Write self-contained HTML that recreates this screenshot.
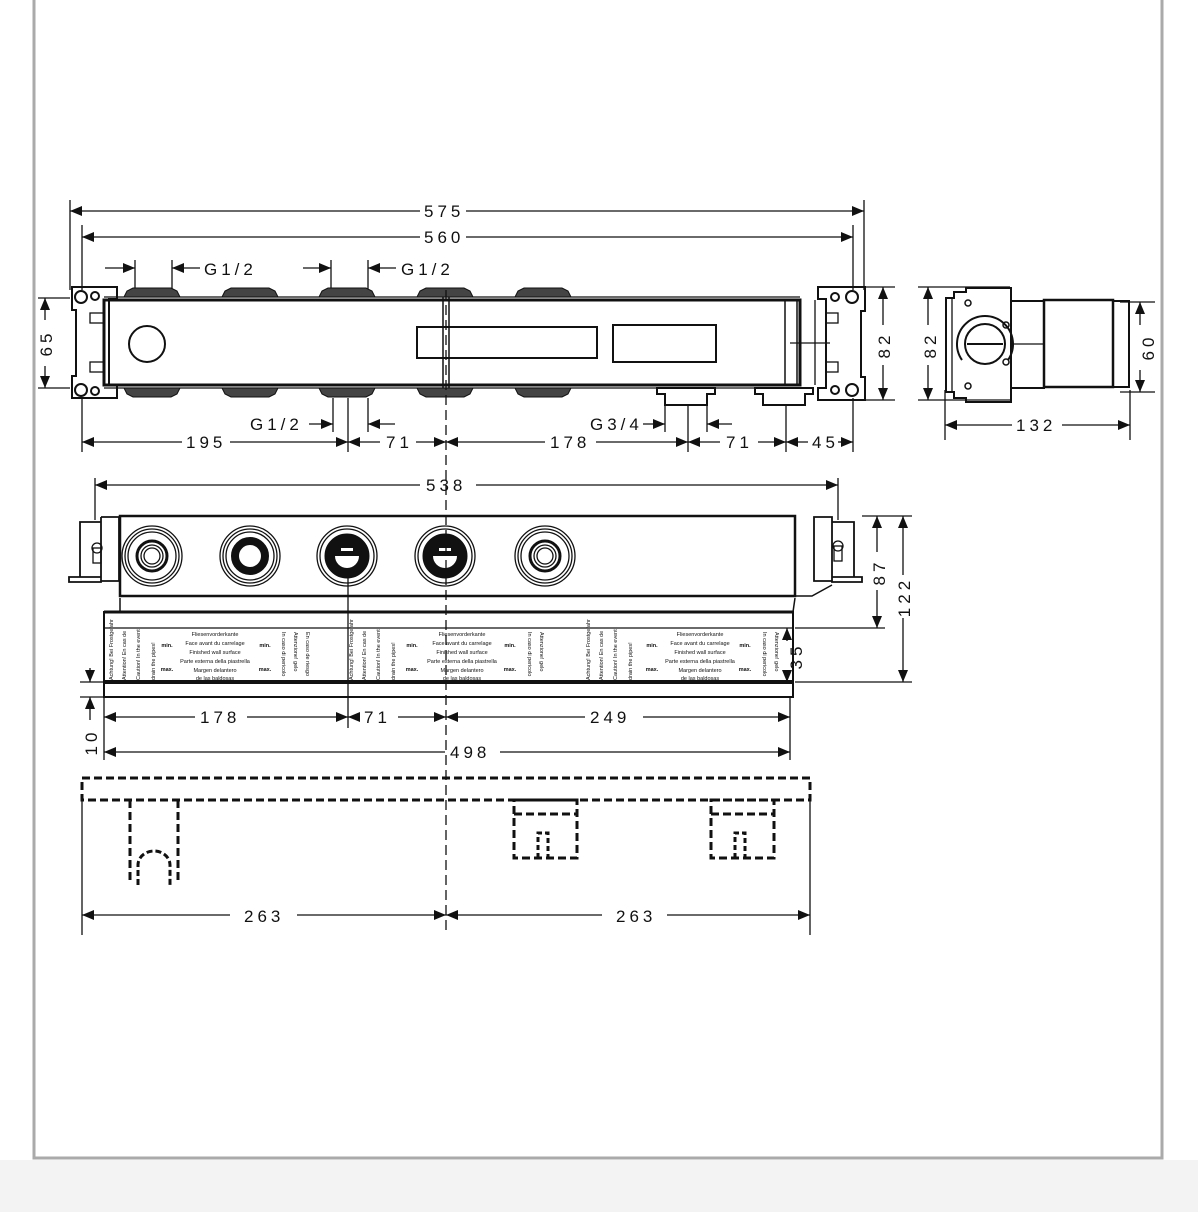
<!DOCTYPE html>
<html><head><meta charset="utf-8"><style>
html,body{margin:0;padding:0;background:#f3f3f3;}
svg{display:block;}
text{font-family:"Liberation Sans",sans-serif;fill:#111;}
.d{font-size:17px;letter-spacing:4px;}
.s{font-size:5.5px;}
</style></head><body>
<svg width="1198" height="1212" viewBox="0 0 1198 1212" xmlns="http://www.w3.org/2000/svg">
<defs>
<marker id="a" viewBox="0 0 12 10" refX="12" refY="5" markerWidth="12" markerHeight="10" markerUnits="userSpaceOnUse" orient="auto-start-reverse"><path d="M0,0 L12,5 L0,10 Z" fill="#111"/></marker>
</defs>
<rect x="0" y="0" width="1198" height="1160" fill="#fff"/>
<path d="M34,0 V1158 H1162 V0" fill="none" stroke="#aaa" stroke-width="3"/>

<g stroke="#111" fill="none" stroke-width="1.3">
<line x1="70" y1="200" x2="70" y2="290"/>
<line x1="82" y1="225" x2="82" y2="290"/>
<line x1="864" y1="200" x2="864" y2="290"/>
<line x1="853" y1="225" x2="853" y2="290"/>
<line x1="82" y1="398" x2="82" y2="452"/>
<line x1="853" y1="398" x2="853" y2="452"/>
<line x1="135" y1="260" x2="135" y2="290"/><line x1="172" y1="260" x2="172" y2="290"/>
<line x1="331" y1="260" x2="331" y2="290"/><line x1="368" y1="260" x2="368" y2="290"/>
<line x1="333" y1="398" x2="333" y2="432"/><line x1="368" y1="398" x2="368" y2="432"/><line x1="348" y1="398" x2="348" y2="452"/>
<line x1="665" y1="400" x2="665" y2="432"/><line x1="707" y1="400" x2="707" y2="432"/><line x1="688" y1="400" x2="688" y2="452"/>
<line x1="786" y1="400" x2="786" y2="452"/>
<line x1="38" y1="298" x2="70" y2="298"/><line x1="38" y1="388" x2="70" y2="388"/>
<line x1="865" y1="287" x2="895" y2="287"/><line x1="865" y1="400" x2="895" y2="400"/>

<line x1="70" y1="211" x2="420" y2="211" marker-start="url(#a)"/><line x1="466" y1="211" x2="864" y2="211" marker-end="url(#a)"/>
<line x1="82" y1="237" x2="420" y2="237" marker-start="url(#a)"/><line x1="466" y1="237" x2="853" y2="237" marker-end="url(#a)"/>
<line x1="105" y1="268" x2="135" y2="268" marker-end="url(#a)"/><line x1="172" y1="268" x2="200" y2="268" marker-start="url(#a)"/>
<line x1="303" y1="268" x2="331" y2="268" marker-end="url(#a)"/><line x1="368" y1="268" x2="396" y2="268" marker-start="url(#a)"/>
<line x1="309" y1="424" x2="333" y2="424" marker-end="url(#a)"/><line x1="368" y1="424" x2="395" y2="424" marker-start="url(#a)"/>
<line x1="643" y1="424" x2="665" y2="424" marker-end="url(#a)"/><line x1="707" y1="424" x2="732" y2="424" marker-start="url(#a)"/>
<line x1="82" y1="442" x2="182" y2="442" marker-start="url(#a)"/><line x1="230" y1="442" x2="348" y2="442" marker-end="url(#a)"/>
<line x1="348" y1="442" x2="380" y2="442" marker-start="url(#a)"/><line x1="416" y1="442" x2="446" y2="442" marker-end="url(#a)"/>
<line x1="446" y1="442" x2="545" y2="442" marker-start="url(#a)"/><line x1="596" y1="442" x2="688" y2="442" marker-end="url(#a)"/>
<line x1="688" y1="442" x2="720" y2="442" marker-start="url(#a)"/><line x1="758" y1="442" x2="786" y2="442" marker-end="url(#a)"/>
<line x1="786" y1="442" x2="808" y2="442" marker-start="url(#a)"/><line x1="838" y1="442" x2="853" y2="442" marker-end="url(#a)"/>
<line x1="45" y1="298" x2="45" y2="320" marker-start="url(#a)"/><line x1="45" y1="366" x2="45" y2="388" marker-end="url(#a)"/>
<line x1="883" y1="287" x2="883" y2="325" marker-start="url(#a)"/><line x1="883" y1="365" x2="883" y2="400" marker-end="url(#a)"/>

<rect x="104" y="300" width="696" height="85" stroke-width="3"/>
<line x1="104" y1="297" x2="800" y2="297"/>
<line x1="104" y1="388" x2="800" y2="388"/>
<circle cx="147" cy="344" r="18" stroke-width="2"/>
<rect x="417" y="327" width="180" height="31" stroke-width="2"/>
<rect x="613" y="325" width="103" height="37" stroke-width="2"/>
<line x1="443" y1="297" x2="443" y2="388" stroke-width="1.5"/><line x1="449" y1="297" x2="449" y2="388" stroke-width="1.5"/>
<path d="M785,300 h12 v85 h-12 z" stroke-width="1.5"/>
<line x1="815" y1="300" x2="815" y2="385"/><line x1="790" y1="343" x2="830" y2="343"/>
<path d="M72,287 h45 v12 h-8 v86 h8 v13 h-45 v-22 h4 v-66 h-4 z" stroke-width="2"/>
<circle cx="81" cy="297" r="6" stroke-width="2"/><circle cx="95" cy="296" r="4" stroke-width="2"/>
<circle cx="81" cy="390" r="6" stroke-width="2"/><circle cx="95" cy="391" r="4" stroke-width="2"/>
<rect x="90" y="313" width="14" height="10"/><rect x="90" y="362" width="14" height="10"/>
<path d="M818,287 h47 v24 h-4 v66 h4 v23 h-47 v-12 h8 v-89 h-8 z" stroke-width="2"/>
<circle cx="835" cy="297" r="4" stroke-width="2"/><circle cx="852" cy="297" r="6" stroke-width="2"/>
<circle cx="835" cy="390" r="4" stroke-width="2"/><circle cx="852" cy="390" r="6" stroke-width="2"/>
<rect x="826" y="313" width="12" height="10"/><rect x="826" y="362" width="12" height="10"/>
</g>
<g fill="#444" stroke="#111" stroke-width="1">
<path d="M124,297 l3,-6 l6,-3 h38 l6,3 l3,6 z"/><path d="M222,297 l3,-6 l6,-3 h38 l6,3 l3,6 z"/>
<path d="M319,297 l3,-6 l6,-3 h38 l6,3 l3,6 z"/><path d="M417,297 l3,-6 l6,-3 h38 l6,3 l3,6 z"/>
<path d="M515,297 l3,-6 l6,-3 h38 l6,3 l3,6 z"/>
<path d="M124,388 l3,6 l6,3 h38 l6,-3 l3,-6 z"/><path d="M222,388 l3,6 l6,3 h38 l6,-3 l3,-6 z"/>
<path d="M319,388 l3,6 l6,3 h38 l6,-3 l3,-6 z"/><path d="M417,388 l3,6 l6,3 h38 l6,-3 l3,-6 z"/>
<path d="M515,388 l3,6 l6,3 h38 l6,-3 l3,-6 z"/>
<path d="M657,388 v6 h8 v11 h42 v-11 h8 v-6 z" fill="#fff" stroke-width="2"/>
<path d="M755,388 v6 h8 v11 h42 v-11 h8 v-6 z" fill="#fff" stroke-width="2"/>
</g>
<text class="d" x="424" y="217">575</text>
<text class="d" x="424" y="243">560</text>
<text class="d" x="204" y="275">G1/2</text>
<text class="d" x="401" y="275">G1/2</text>
<text class="d" x="250" y="430">G1/2</text>
<text class="d" x="590" y="430">G3/4</text>
<text class="d" x="186" y="448">195</text>
<text class="d" x="386" y="448">71</text>
<text class="d" x="550" y="448">178</text>
<text class="d" x="726" y="448">71</text>
<text class="d" x="812" y="448">45</text>
<text class="d" transform="translate(52,343) rotate(-90)" text-anchor="middle">65</text>
<text class="d" transform="translate(890,345) rotate(-90)" text-anchor="middle">82</text>

<g stroke="#111" fill="none" stroke-width="1.3">
<line x1="918" y1="287" x2="1010" y2="287"/><line x1="918" y1="400" x2="1010" y2="400"/>
<line x1="928" y1="287" x2="928" y2="325" marker-start="url(#a)"/><line x1="928" y1="365" x2="928" y2="400" marker-end="url(#a)"/>
<line x1="1120" y1="302" x2="1155" y2="302"/><line x1="1120" y1="392" x2="1155" y2="392"/>
<line x1="1140" y1="302" x2="1140" y2="325" marker-start="url(#a)"/><line x1="1140" y1="370" x2="1140" y2="392" marker-end="url(#a)"/>
<line x1="945" y1="390" x2="945" y2="440"/><line x1="1130" y1="390" x2="1130" y2="440"/>
<line x1="945" y1="425" x2="1012" y2="425" marker-start="url(#a)"/><line x1="1062" y1="425" x2="1130" y2="425" marker-end="url(#a)"/>
<path d="M946,298 h8 v-6 h12 v-4 h45 v114 h-45 v-4 h-12 v-6 h-8 z" stroke-width="2"/>
<line x1="952" y1="298" x2="952" y2="392"/>
<path d="M962,360 a28,28 0 1,1 46,0" stroke-width="2"/>
<circle cx="985" cy="344" r="20" stroke-width="2"/>
<line x1="967" y1="344" x2="1003" y2="344" stroke-width="2"/>
<circle cx="968" cy="303" r="3" stroke-width="1.5"/><circle cx="968" cy="386" r="3" stroke-width="1.5"/>
<circle cx="1006" cy="325" r="3" stroke-width="1.5"/><circle cx="1006" cy="362" r="3" stroke-width="1.5"/>
<rect x="1011" y="301" width="33" height="87" stroke-width="2"/>
<line x1="1011" y1="344" x2="1044" y2="344"/>
<rect x="1044" y="300" width="69" height="87" stroke-width="2.5"/>
<rect x="1113" y="301" width="16" height="86" stroke-width="2"/>
</g>
<text class="d" transform="translate(936,345) rotate(-90)" text-anchor="middle">82</text>
<text class="d" transform="translate(1154,347) rotate(-90)" text-anchor="middle">60</text>
<text class="d" x="1016" y="431">132</text>

<g stroke="#111" fill="none" stroke-width="1.3">
<line x1="95" y1="478" x2="95" y2="520"/><line x1="838" y1="478" x2="838" y2="520"/>
<line x1="95" y1="485" x2="420" y2="485" marker-start="url(#a)"/><line x1="476" y1="485" x2="838" y2="485" marker-end="url(#a)"/>
<rect x="120" y="516" width="675" height="80" stroke-width="2.5"/>
<path d="M120,598 V612 M795,598 L793,612" stroke-width="1.5"/>
<path d="M795,596 L812,596 L832,585" stroke-width="1.5"/>
<path d="M101,517 h18 v64 h-18 v-64 M80,522 h21 v55 h-21 z M69,577 h32 v5 h-32 z" stroke-width="1.8"/>
<circle cx="97" cy="548" r="5"/><rect x="93" y="548" width="8" height="15"/>
<path d="M814,517 h18 v64 h-18 z M832,522 h22 v55 h-22 z M832,577 h30 v5 h-30 z" stroke-width="1.8"/>
<circle cx="838" cy="546" r="5"/><rect x="834" y="546" width="8" height="15"/>
<rect x="104" y="612" width="689" height="85" stroke-width="2"/>
<line x1="104" y1="612" x2="793" y2="612" stroke-width="3"/>
<line x1="104" y1="628" x2="793" y2="628"/>
<line x1="104" y1="682" x2="793" y2="682" stroke-width="4"/>
<line x1="104" y1="697" x2="793" y2="697" stroke-width="2"/>
<line x1="862" y1="516" x2="912" y2="516"/><line x1="795" y1="628" x2="885" y2="628"/><line x1="795" y1="682" x2="912" y2="682"/>
<line x1="877" y1="516" x2="877" y2="552" marker-start="url(#a)"/><line x1="877" y1="590" x2="877" y2="628" marker-end="url(#a)"/>
<line x1="903" y1="516" x2="903" y2="575" marker-start="url(#a)"/><line x1="903" y1="618" x2="903" y2="682" marker-end="url(#a)"/>
<line x1="787" y1="628" x2="787" y2="641" marker-start="url(#a)"/><line x1="787" y1="670" x2="787" y2="682" marker-end="url(#a)"/>
<line x1="80" y1="682" x2="104" y2="682"/><line x1="80" y1="697" x2="104" y2="697"/>
<line x1="90" y1="668" x2="90" y2="682" marker-end="url(#a)"/><line x1="90" y1="697" x2="90" y2="720" marker-start="url(#a)"/>
<line x1="104" y1="697" x2="104" y2="760"/><line x1="790" y1="697" x2="790" y2="760"/>
<line x1="348" y1="560" x2="348" y2="728"/>
<line x1="104" y1="717" x2="195" y2="717" marker-start="url(#a)"/><line x1="247" y1="717" x2="348" y2="717" marker-end="url(#a)"/>
<line x1="348" y1="717" x2="360" y2="717" marker-start="url(#a)"/><line x1="398" y1="717" x2="446" y2="717" marker-end="url(#a)"/>
<line x1="446" y1="717" x2="585" y2="717" marker-start="url(#a)"/><line x1="643" y1="717" x2="790" y2="717" marker-end="url(#a)"/>
<line x1="104" y1="752" x2="445" y2="752" marker-start="url(#a)"/><line x1="500" y1="752" x2="790" y2="752" marker-end="url(#a)"/>
</g>
<g stroke="#111" fill="none">
<g transform="translate(152,556)"><circle r="30" stroke-width="1.3"/><circle r="27" stroke-width="1.3"/><circle r="24" stroke-width="1.3"/><circle r="15" stroke-width="3"/><circle r="11" stroke-width="1.3"/><circle r="8" stroke-width="1.3"/></g>
<g transform="translate(250,556)"><circle r="30" stroke-width="1.3"/><circle r="27" stroke-width="1.3"/><circle r="24" stroke-width="1.3"/><circle r="15" stroke-width="8"/></g>
<g transform="translate(347,556)"><circle r="30" stroke-width="1.3"/><circle r="27" stroke-width="1.3"/><circle r="22" fill="#111"/><path d="M-12,0 h24 a12,12 0 0,1 -24,0z" fill="#fff" stroke="none"/><rect x="-6" y="-8" width="12" height="3" fill="#fff" stroke="none"/></g>
<g transform="translate(445,556)"><circle r="30" stroke-width="1.3"/><circle r="27" stroke-width="1.3"/><circle r="22" fill="#111"/><path d="M-12,0 h24 a12,12 0 0,1 -24,0z" fill="#fff" stroke="none"/><rect x="-6" y="-8" width="12" height="3" fill="#fff" stroke="none"/></g>
<g transform="translate(545,556)"><circle r="30" stroke-width="1.3"/><circle r="27" stroke-width="1.3"/><circle r="24" stroke-width="1.3"/><circle r="15" stroke-width="3"/><circle r="11" stroke-width="1.3"/><circle r="8" stroke-width="1.3"/></g>
</g>
<g>
<text class="s" x="215" y="636" text-anchor="middle">Fliesenvorderkante</text>
<text class="s" x="215" y="645" text-anchor="middle">Face avant du carrelage</text>
<text class="s" x="215" y="654" text-anchor="middle">Finished wall surface</text>
<text class="s" x="215" y="663" text-anchor="middle">Parte esterna della piastrella</text>
<text class="s" x="215" y="672" text-anchor="middle">Margen delantero</text>
<text class="s" x="215" y="680" text-anchor="middle">de las baldosas</text>
<text class="s" x="462" y="636" text-anchor="middle">Fliesenvorderkante</text>
<text class="s" x="462" y="645" text-anchor="middle">Face avant du carrelage</text>
<text class="s" x="462" y="654" text-anchor="middle">Finished wall surface</text>
<text class="s" x="462" y="663" text-anchor="middle">Parte esterna della piastrella</text>
<text class="s" x="462" y="672" text-anchor="middle">Margen delantero</text>
<text class="s" x="462" y="680" text-anchor="middle">de las baldosas</text>
<text class="s" x="700" y="636" text-anchor="middle">Fliesenvorderkante</text>
<text class="s" x="700" y="645" text-anchor="middle">Face avant du carrelage</text>
<text class="s" x="700" y="654" text-anchor="middle">Finished wall surface</text>
<text class="s" x="700" y="663" text-anchor="middle">Parte esterna della piastrella</text>
<text class="s" x="700" y="672" text-anchor="middle">Margen delantero</text>
<text class="s" x="700" y="680" text-anchor="middle">de las baldosas</text>
<text class="s" x="167" y="647" text-anchor="middle" font-weight="bold">min.</text><text class="s" x="167" y="671" text-anchor="middle" font-weight="bold">max.</text>
<text class="s" x="265" y="647" text-anchor="middle" font-weight="bold">min.</text><text class="s" x="265" y="671" text-anchor="middle" font-weight="bold">max.</text>
<text class="s" x="412" y="647" text-anchor="middle" font-weight="bold">min.</text><text class="s" x="412" y="671" text-anchor="middle" font-weight="bold">max.</text>
<text class="s" x="510" y="647" text-anchor="middle" font-weight="bold">min.</text><text class="s" x="510" y="671" text-anchor="middle" font-weight="bold">max.</text>
<text class="s" x="652" y="647" text-anchor="middle" font-weight="bold">min.</text><text class="s" x="652" y="671" text-anchor="middle" font-weight="bold">max.</text>
<text class="s" x="745" y="647" text-anchor="middle" font-weight="bold">min.</text><text class="s" x="745" y="671" text-anchor="middle" font-weight="bold">max.</text>
<text class="s" transform="translate(113,680) rotate(-90)">Achtung! Bei Frostgefahr</text>
<text class="s" transform="translate(126,680) rotate(-90)">Attention! En cas de</text>
<text class="s" transform="translate(140,680) rotate(-90)">Caution! In the event</text>
<text class="s" transform="translate(155,680) rotate(-90)">drain the pipes!</text>
<text class="s" transform="translate(282,632) rotate(90)">In caso di pericolo</text>
<text class="s" transform="translate(294,632) rotate(90)">Attenzione! gelo</text>
<text class="s" transform="translate(306,632) rotate(90)">En caso de riesgo</text>
<text class="s" transform="translate(353,680) rotate(-90)">Achtung! Bei Frostgefahr</text>
<text class="s" transform="translate(366,680) rotate(-90)">Attention! En cas de</text>
<text class="s" transform="translate(380,680) rotate(-90)">Caution! In the event</text>
<text class="s" transform="translate(395,680) rotate(-90)">drain the pipes!</text>
<text class="s" transform="translate(528,632) rotate(90)">In caso di pericolo</text>
<text class="s" transform="translate(540,632) rotate(90)">Attenzione! gelo</text>
<text class="s" transform="translate(590,680) rotate(-90)">Achtung! Bei Frostgefahr</text>
<text class="s" transform="translate(603,680) rotate(-90)">Attention! En cas de</text>
<text class="s" transform="translate(617,680) rotate(-90)">Caution! In the event</text>
<text class="s" transform="translate(632,680) rotate(-90)">drain the pipes!</text>
<text class="s" transform="translate(763,632) rotate(90)">In caso di pericolo</text>
<text class="s" transform="translate(775,632) rotate(90)">Attenzione! gelo</text>
</g>
<text class="d" x="426" y="491">538</text>
<text class="d" transform="translate(885,572) rotate(-90)" text-anchor="middle">87</text>
<text class="d" transform="translate(910,597) rotate(-90)" text-anchor="middle">122</text>
<text class="d" transform="translate(802,656) rotate(-90)" text-anchor="middle">35</text>
<text class="d" transform="translate(97,742) rotate(-90)" text-anchor="middle">10</text>
<text class="d" x="200" y="723">178</text>
<text class="d" x="364" y="723">71</text>
<text class="d" x="590" y="723">249</text>
<text class="d" x="450" y="758">498</text>

<g stroke="#111" fill="none" stroke-width="3" stroke-dasharray="8,4">
<rect x="82" y="778" width="728" height="22"/>
<path d="M130,800 V880 M178,800 V880"/>
<path d="M138,885 V865 a16,14 0 0,1 32,0 V885" stroke-dasharray="6,3"/>
<rect x="514" y="800" width="63" height="58"/><line x1="514" y1="814" x2="577" y2="814"/>
<path d="M538,858 V833 h10 V858" stroke-dasharray="5,3"/>
<rect x="711" y="800" width="63" height="58"/><line x1="711" y1="814" x2="774" y2="814"/>
<path d="M735,858 V833 h10 V858" stroke-dasharray="5,3"/>
</g>
<g stroke="#111" fill="none" stroke-width="1.3">
<line x1="446" y1="290" x2="446" y2="932" stroke-dasharray="10,5"/>
<line x1="82" y1="800" x2="82" y2="935"/><line x1="810" y1="800" x2="810" y2="935"/>
<line x1="82" y1="915" x2="230" y2="915" marker-start="url(#a)"/><line x1="297" y1="915" x2="446" y2="915" marker-end="url(#a)"/>
<line x1="446" y1="915" x2="602" y2="915" marker-start="url(#a)"/><line x1="667" y1="915" x2="810" y2="915" marker-end="url(#a)"/>
</g>
<text class="d" x="244" y="922">263</text>
<text class="d" x="616" y="922">263</text>
</svg>
</body></html>
